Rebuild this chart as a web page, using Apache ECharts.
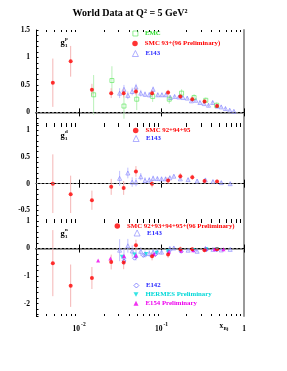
<!DOCTYPE html>
<html><head><meta charset="utf-8">
<script src="https://cdn.jsdelivr.net/npm/echarts@6/dist/echarts.min.js"></script>
<style>html,body{margin:0;padding:0;background:#fff}#c{width:287px;height:371px}</style>
</head><body><div id="c"></div>
<script>
// ---------- data ----------
const xSMC = [0.0048,0.0079,0.0143,0.0245,0.0347,0.0489,0.0767,0.120,0.169,0.236,0.332,0.471];
// proton
const smcP_y = [0.54,0.93,0.41,0.35,0.35,0.38,0.35,0.36,0.29,0.24,0.20,0.115];
const smcP_e = [0.44,0.28,0.11,0.09,0.08,0.07,0.06,0.05,0.05,0.05,0.04,0.04];
const emcP_x = [0.015,0.025,0.035,0.050,0.078,0.124,0.175,0.248,0.344,0.466];
const emcP_y = [0.32,0.58,0.115,0.24,0.29,0.24,0.35,0.27,0.22,0.13];
const emcP_e = [0.36,0.26,0.23,0.20,0.10,0.08,0.07,0.06,0.05,0.05];
const e143P_x = [0.031,0.035,0.039,0.044,0.049,0.056,0.063,0.071,0.079,0.090,0.101,0.113,0.128,0.144,0.162,0.182,0.205,0.230,0.260,0.292,0.329,0.371,0.417,0.470,0.529,0.596,0.671,0.754];
const e143P_y = [0.35,0.42,0.31,0.38,0.46,0.35,0.33,0.32,0.42,0.32,0.32,0.32,0.27,0.29,0.28,0.27,0.26,0.21,0.22,0.18,0.16,0.13,0.18,0.115,0.10,0.07,0.04,0.02];
const e143P_e = [0.09,0.08,0.07,0.07,0.06,0.06,0.05,0.05,0.05,0.04,0.04,0.04,0.04,0.03,0.03,0.03,0.03,0.03,0.03,0.03,0.03,0.03,0.03,0.03,0.03,0.03,0.02,0.02];
// deuteron
const smcD_y = [0.0,-0.2,-0.31,-0.06,-0.08,0.23,0.0,0.06,0.14,0.12,0.05,0.04];
const smcD_e = [0.55,0.35,0.18,0.15,0.13,0.10,0.07,0.06,0.06,0.05,0.04,0.04];
const e143D_x = [0.031,0.039,0.044,0.049,0.056,0.063,0.071,0.079,0.089,0.100,0.112,0.126,0.141,0.169,0.21,0.27,0.34,0.42,0.53,0.68];
const e143D_y = [0.10,0.20,0.03,0.03,0.13,0.06,0.07,0.10,0.095,0.09,0.09,0.11,0.14,0.09,0.076,0.05,0.07,0.04,0.02,0.0];
const e143D_e = [0.14,0.10,0.09,0.08,0.07,0.06,0.05,0.05,0.04,0.04,0.04,0.04,0.03,0.03,0.03,0.03,0.03,0.03,0.03,0.03];
// neutron
const smcN_y = [-0.53,-1.35,-1.07,-0.49,-0.51,0.12,-0.28,-0.22,-0.03,-0.03,-0.06,-0.03];
const smcN_e = [1.2,0.77,0.40,0.27,0.24,0.20,0.15,0.12,0.10,0.08,0.07,0.06];
const e143N_x = [0.031,0.035,0.039,0.044,0.049,0.056,0.063,0.071,0.079,0.089,0.100,0.126,0.141,0.21,0.27,0.34,0.42,0.53,0.68];
const e143N_y = [-0.06,-0.30,0.10,-0.09,-0.25,-0.10,-0.20,-0.18,-0.13,-0.12,-0.13,0.0,0.02,-0.06,-0.10,0.0,-0.03,-0.05,-0.03];
const e143N_e = [0.40,0.30,0.25,0.20,0.18,0.15,0.13,0.12,0.10,0.09,0.08,0.07,0.06,0.05,0.05,0.04,0.04,0.04,0.04];
const e142_x = [0.035,0.047,0.060,0.084,0.122,0.173,0.245,0.352,0.466];
const e142_y = [-0.45,-0.35,-0.25,-0.22,-0.12,-0.10,-0.06,-0.04,-0.05];
const hermes_x = [0.033,0.047,0.065,0.087,0.119,0.168,0.245,0.35,0.47];
const hermes_y = [-0.30,-0.22,-0.20,-0.15,-0.10,-0.08,-0.05,-0.03,-0.02];
const e154_x = [0.017,0.024,0.035,0.049,0.081,0.123,0.173,0.242,0.342,0.441,0.564];
const e154_y = [-0.43,-0.36,-0.27,-0.25,-0.20,-0.12,-0.08,-0.06,0.0,-0.03,-0.03];
const xMinorTicks = [0.004,0.005,0.006,0.007,0.008,0.009,0.02,0.03,0.04,0.05,0.06,0.07,0.08,0.09,0.2,0.3,0.4,0.5,0.6,0.7,0.8,0.9];

// ---------- layout / style ----------
const FONT = '"Liberation Serif", "Times New Roman", serif';
const grids = [{top:30,height:95},{top:125,height:96},{top:221,height:95}];
const yRng = [[-0.23,1.5,0.1,0.5],[-0.7,1.1,0.1,0.5],[-2.45,1,0.2,1]];
const C = {smc:'#ff0000', smcErr:'#f5b5b5', emc:'#55e855', emcErr:'#b8f0b8', e143:'#8585ff', e143Err:'#c0c0ff',
  e142:'#5050ff', hermes:'#00dede', e154:'#ee00ee'};
const downTri = 'path://M0,0L10,0L5,9Z';
const open = c => ({color:'rgba(255,255,255,0)', borderColor:c, borderWidth:0.8});

const chart = echarts.init(document.getElementById('c'), null, {renderer:'canvas'});

const gridOpt = grids.map(g => ({left:36, width:208, top:g.top, height:g.height, show:false}));
const xAxes = [];
grids.forEach((g,i) => {
  const bottomColor = i===1 ? '#000' : '#999';
  const bottomWidth = i===1 ? 1 : 2;
  xAxes.push({type:'log', gridIndex:i, min:0.003, max:1, position:'bottom',
    axisLine:{show:true, lineStyle:{color:bottomColor, width:bottomWidth}},
    axisTick:{show:true, inside:true, length:4, lineStyle:{color:'#000'}},
    splitLine:{show:false},
    axisLabel:{show:i===2, margin:6, color:'#000',
      formatter: v => { const l=Math.log10(v), e=Math.round(l); if (Math.abs(l-e)>1e-6) return ''; if (e===0) return '{b|1}'; return '{b|10}{s|'+e+'}'; },
      rich:{b:{fontFamily:FONT, fontWeight:'bold', fontSize:7.5, lineHeight:11, verticalAlign:'bottom'},
            s:{fontFamily:FONT, fontWeight:'bold', fontSize:5.5, lineHeight:11, verticalAlign:'top', padding:[0,0,0,1]}}}
  });
  xAxes.push({type:'log', gridIndex:i, min:0.003, max:1, position:'top',
    axisLine:{show:i!==1, lineStyle:{color:'#000', width:1}},
    axisTick:{show:true, inside:true, length:4, lineStyle:{color:'#000'}},
    splitLine:{show:false}, axisLabel:{show:false}});
});
const yAxes = [];
yRng.forEach((r,i) => {
  yAxes.push({type:'value', gridIndex:i, min:r[0], max:r[1], minInterval:r[2], maxInterval:r[2], position:'left',
    axisLine:{show:true, lineStyle:{color:'#000'}},
    axisTick:{show:true, inside:true, length:2.5, lineStyle:{color:'#000'}},
    splitLine:{show:false},
    axisLabel:{margin:6, color:'#000', fontFamily:FONT, fontWeight:'bold', fontSize:7.5,
      formatter: v => { const q=v/r[3]; if (Math.abs(q-Math.round(q))>1e-6) return ''; return String(Math.round(v*10)/10); }}
  });
});
yRng.forEach((r,i) => {
  yAxes.push({type:'value', gridIndex:i, min:r[0], max:r[1], position:'right',
    axisLine:{show:true, lineStyle:{color:'#999', width:2}}, axisTick:{show:false}, axisLabel:{show:false}, splitLine:{show:false}});
});

const series = [];
function minorTicks(gi){
  series.push({type:'custom', name:'minor'+gi, xAxisIndex:2*gi, yAxisIndex:gi, silent:true, z:1,
    data: xMinorTicks.map(v => [v, 0]),
    renderItem:(params, api) => {
      const cs = params.coordSys;
      const px = Math.round(api.coord([api.value(0), 0])[0]) + 0.5;
      return {type:'group', children:[
        {type:'line', shape:{x1:px,y1:cs.y+cs.height,x2:px,y2:cs.y+cs.height-2}, style:{stroke:'#000', lineWidth:1}},
        {type:'line', shape:{x1:px,y1:cs.y,x2:px,y2:cs.y+2}, style:{stroke:'#000', lineWidth:1}}]};
    }});
}
function errBars(name, xs, ys, es, color, gi){
  series.push({type:'custom', name:name+' err', xAxisIndex:2*gi, yAxisIndex:gi, silent:true, z:2, clip:true,
    data: xs.map((x,i) => [x, ys[i]-es[i], ys[i]+es[i]]),
    encode:{x:0, y:[1,2]},
    renderItem:(params, api) => {
      const lo = api.coord([api.value(0), api.value(1)]);
      const hi = api.coord([api.value(0), api.value(2)]);
      return {type:'line', shape:{x1:lo[0],y1:lo[1],x2:hi[0],y2:hi[1]}, style:{stroke:color, lineWidth:1}};
    }});
}
function markers(name, xs, ys, gi, symbol, size, itemStyle, z, zeroLine){
  const s = {type:'scatter', name, xAxisIndex:2*gi, yAxisIndex:gi, silent:true, z:z||3,
    data: xs.map((x,i) => [x, ys[i]]), symbol, symbolSize:size, itemStyle};
  if (zeroLine) s.markLine = {silent:true, symbol:['none','none'], label:{show:false},
    lineStyle:{color:'#777', type:[2,2], width:1}, data:[{yAxis:0}]};
  series.push(s);
}

[0,1,2].forEach(minorTicks);
// proton
errBars('EMC', emcP_x, emcP_y, emcP_e, C.emcErr, 0);
errBars('E143p', e143P_x, e143P_y, e143P_e, C.e143Err, 0);
errBars('SMCp', xSMC, smcP_y, smcP_e, C.smcErr, 0);
markers('E143', e143P_x, e143P_y, 0, 'triangle', 4, open(C.e143), 3, true);
markers('EMC', emcP_x, emcP_y, 0, 'rect', 4, open(C.emc), 3);
markers('SMC 93+(96 Preliminary)', xSMC, smcP_y, 0, 'circle', 4, {color:C.smc}, 4);
// deuteron
errBars('E143d', e143D_x, e143D_y, e143D_e, C.e143Err, 1);
errBars('SMCd', xSMC, smcD_y, smcD_e, C.smcErr, 1);
markers('E143', e143D_x, e143D_y, 1, 'triangle', 4, open(C.e143), 3, true);
markers('SMC 92+94+95', xSMC, smcD_y, 1, 'circle', 4, {color:C.smc}, 4);
// neutron
errBars('E143n', e143N_x, e143N_y, e143N_e, C.e143Err, 2);
errBars('SMCn', xSMC, smcN_y, smcN_e, C.smcErr, 2);
markers('E143', e143N_x, e143N_y, 2, 'triangle', 4, open(C.e143), 3, true);
markers('E142', e142_x, e142_y, 2, 'diamond', 4, open(C.e142), 3);
markers('HERMES Preliminary', hermes_x, hermes_y, 2, downTri, 4, {color:C.hermes}, 3);
markers('E154 Preliminary', e154_x, e154_y, 2, 'triangle', 4, {color:C.e154}, 3);
markers('SMC 92+93+94+95+(96 Preliminary)', xSMC, smcN_y, 2, 'circle', 4, {color:C.smc}, 4);

function legendItem(name, cx, cy, color, icon, iconStyle, sz){
  sz = sz || 5;
  return {data:[{name, icon, itemStyle:iconStyle, textStyle:{color}}], left:cx-sz/2, top:cy-4, orient:'vertical', padding:0, itemGap:0,
    itemWidth:sz, itemHeight:sz, selectedMode:false,
    textStyle:{fontFamily:FONT, fontWeight:'bold', fontSize:6.8, color, padding:[0,0,0,2]}};
}
const smcIcon = {color:C.smc, borderWidth:0};
const legends = [
  legendItem('EMC', 135, 34, '#33dd33', 'rect', open(C.emc)),
  legendItem('SMC 93+(96 Preliminary)', 135, 44, '#ff0000', 'circle', smcIcon, 5.5),
  legendItem('E143', 135, 54, '#2a2aff', 'triangle', open(C.e143), 6),
  legendItem('SMC 92+94+95', 135.7, 131, '#ff0000', 'circle', smcIcon, 5.5),
  legendItem('E143', 135.7, 139, '#2a2aff', 'triangle', open(C.e143), 6),
  legendItem('SMC 92+93+94+95+(96 Preliminary)', 117.3, 226.5, '#ff0000', 'circle', smcIcon, 5.5),
  legendItem('E143', 136.7, 233.5, '#2a2aff', 'triangle', open(C.e143), 6),
  legendItem('E142', 136, 286, '#2a2aff', 'diamond', open(C.e142), 5),
  legendItem('HERMES Preliminary', 136, 295, '#00d8d8', downTri, {color:C.hermes, borderWidth:0}, 5),
  legendItem('E154 Preliminary', 136, 303.7, '#ee00ee', 'triangle', {color:C.e154, borderWidth:0}, 5)
];

function txt(s, x, y, size){
  return {type:'text', x, y, silent:true, z:100,
    style:{text:s, fill:'#000', font:'bold '+size+'px '+FONT, align:'left', verticalAlign:'middle'}};
}
const graphics = [
  {type:'text', x:130, y:13, silent:true, style:{text:'World Data at Q² = 5 GeV²', fill:'#000', font:'bold 10px '+FONT, align:'center', verticalAlign:'middle'}},
  txt('g', 60.5, 42.5, 8.5), txt('p', 65, 38.5, 5), txt('1', 65, 46, 5),
  txt('g', 60.5, 135.5, 8.5), txt('d', 65, 131.5, 5), txt('1', 65, 139, 5),
  txt('g', 60.5, 233.5, 8.5), txt('n', 65, 229.5, 5), txt('1', 65, 237, 5),
  txt('x', 219.5, 326, 7.5), txt('Bj', 223.5, 329, 5)
];

chart.setOption({
  animation:false,
  backgroundColor:'#fff',
  grid: gridOpt,
  xAxis: xAxes,
  yAxis: yAxes,
  legend: legends,
  graphic: graphics,
  series
});
</script></body></html>
